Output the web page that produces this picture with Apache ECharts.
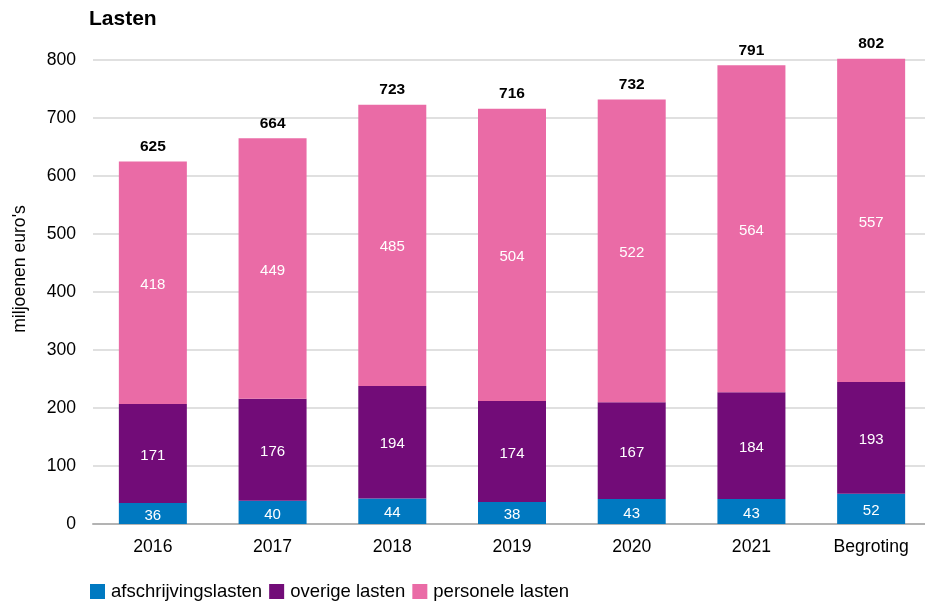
<!DOCTYPE html>
<html>
<head>
<meta charset="utf-8">
<script src="https://cdn.jsdelivr.net/npm/echarts@6/dist/echarts.min.js"></script>
<style>
  html, body { margin: 0; padding: 0; background: #fff; }
  #chart { width: 925px; height: 603px; }
</style>
</head>
<body>
<div id="chart"></div>
<script>
var categories = ['2016', '2017', '2018', '2019', '2020', '2021', 'Begroting'];
var afschrijvingslasten = [36, 40, 44, 38, 43, 43, 52];
var overigeLasten = [171, 176, 194, 174, 167, 184, 193];
var personeleLasten = [418, 449, 485, 504, 522, 564, 557];
var totals = [625, 664, 723, 716, 732, 791, 802];
var yTicks = [0, 100, 200, 300, 400, 500, 600, 700, 800];

var myChart = echarts.init(document.getElementById('chart'));

var innerLabel = {
    show: true,
    color: '#fff',
    fontSize: 15,
    fontFamily: 'Liberation Sans',
    offset: [0, 2]
};

var option = {
    animation: false,
    title: {
        text: 'Lasten',
        left: 84,
        top: 4,
        textStyle: { fontSize: 21, fontWeight: 'bold', color: '#000', fontFamily: 'Liberation Sans' }
    },
    graphic: [{
        type: 'text',
        x: 20,
        y: 269,
        rotation: Math.PI / 2,
        style: {
            text: "miljoenen euro's",
            fontSize: 17.6,
            fontFamily: 'Liberation Sans',
            fill: '#000',
            align: 'center',
            verticalAlign: 'middle'
        }
    }],
    legend: {
        data: ['afschrijvingslasten', 'overige lasten', 'personele lasten'],
        left: 85,
        top: 577,
        itemWidth: 15,
        itemHeight: 15,
        itemGap: 7,
        icon: 'rect',
        textStyle: { fontSize: 18.5, color: '#000', fontFamily: 'Liberation Sans', padding: [0, 0, 0, 1] }
    },
    grid: { left: 93, width: 838, top: 60, bottom: 79, outerBoundsMode: 'none' },
    xAxis: {
        type: 'category',
        data: categories,
        axisTick: { show: false },
        axisLine: { lineStyle: { color: '#b3b3b3', width: 2 } },
        axisLabel: { color: '#000', fontSize: 17.6, margin: 14, fontFamily: 'Liberation Sans' }
    },
    yAxis: {
        type: 'value',
        min: yTicks[0],
        max: yTicks[yTicks.length - 1],
        interval: 100,
        axisLabel: { color: '#000', fontSize: 17.6, margin: 17, fontFamily: 'Liberation Sans' },
        splitLine: { lineStyle: { color: '#d6d6d6', width: 1.5 } }
    },
    series: [{
        name: 'afschrijvingslasten',
        type: 'bar',
        stack: 'lasten',
        barWidth: 68,
        data: afschrijvingslasten,
        itemStyle: { color: '#0079c1' },
        label: innerLabel
    }, {
        name: 'overige lasten',
        type: 'bar',
        stack: 'lasten',
        data: overigeLasten,
        itemStyle: { color: '#720c78' },
        label: innerLabel
    }, {
        name: 'personele lasten',
        type: 'bar',
        stack: 'lasten',
        clip: false,
        data: personeleLasten,
        itemStyle: { color: '#ea6ba6' },
        label: innerLabel
    }, {
        // totaal boven de staaf
        name: 'totaal',
        type: 'bar',
        stack: 'lasten',
        clip: false,
        data: totals.map(function () { return 0; }),
        itemStyle: { color: 'transparent' },
        label: {
            show: true,
            position: 'top',
            distance: 7,
            color: '#000',
            fontSize: 15.5,
            fontWeight: 'bold',
            fontFamily: 'Liberation Sans',
            formatter: function (p) { return totals[p.dataIndex]; }
        }
    }]
};

myChart.setOption(option);
</script>
</body>
</html>
